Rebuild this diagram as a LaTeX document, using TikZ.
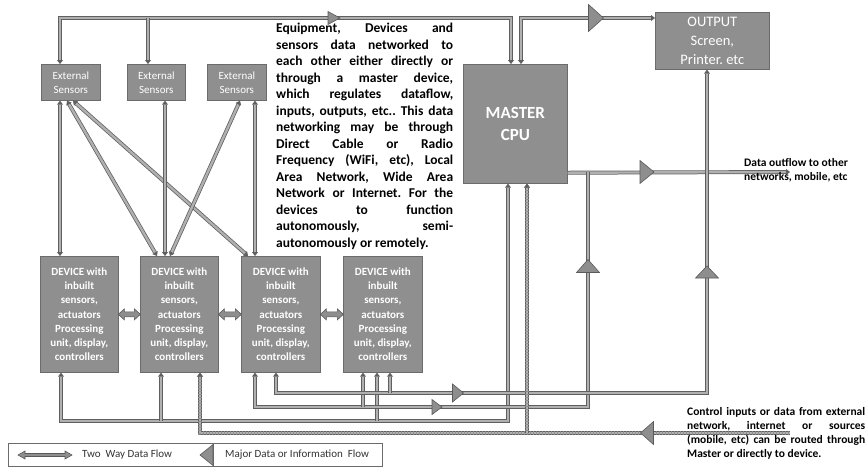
\documentclass[tikz,border=0pt]{standalone}
\usepackage{fontspec}
\setmainfont{Carlito}
\usetikzlibrary{arrows.meta,calc}
\definecolor{boxfill}{HTML}{8F8F8F}
\definecolor{boxline}{HTML}{6B6B6B}
\definecolor{flowout}{HTML}{5F5F5F}
\definecolor{flowin}{HTML}{B0B0B0}
\definecolor{trifill}{HTML}{8E8E8E}
\definecolor{triline}{HTML}{5A5A5A}
\newcommand\jline[1]{\makebox[177pt][s]{#1}}
\newcommand\ctlline[1]{\makebox[178pt][s]{#1}}
\frenchspacing
\tikzset{
  gbox/.style={draw=boxline,fill=boxfill,line width=0.7pt,text=white,inner sep=0pt,align=center,anchor=north west},
  flow/.style={draw=flowout,line width=0.75pt,double=flowin,double distance=2.4pt},
  dotflow/.style={flow,dash pattern=on 0.9pt off 0.6pt,preaction={draw=flowin!80!black,line width=3.9pt,solid}},
  tri/.style={fill=trifill,draw=triline,line width=0.6pt},
  pics/triR/.style 2 args={code={\filldraw[tri] (-#1/2,-#2/2) -- (#1/2,0) -- (-#1/2,#2/2) -- cycle;}},
  pics/triL/.style 2 args={code={\filldraw[tri] (#1/2,-#2/2) -- (-#1/2,0) -- (#1/2,#2/2) -- cycle;}},
  pics/triU/.style 2 args={code={\filldraw[tri] (-#1/2,#2/2) -- (0,-#2/2) -- (#1/2,#2/2) -- cycle;}},
  pics/dblarr/.style n args={4}{code={\filldraw[tri] (-#1/2,0) -- (-#1/2+#4,-#3/2) -- (-#1/2+#4,-#2/2) -- (#1/2-#4,-#2/2) -- (#1/2-#4,-#3/2) -- (#1/2,0) -- (#1/2-#4,#3/2) -- (#1/2-#4,#2/2) -- (-#1/2+#4,#2/2) -- (-#1/2+#4,#3/2) -- cycle;}},
}
\begin{document}
\begin{tikzpicture}[x=1pt,y=-1pt,>={Triangle[length=4pt,width=6pt]}]
\useasboundingbox (0,0) rectangle (867,467);

% boxes
\node[gbox,minimum width=59pt,minimum height=36pt,font=\fontsize{11}{14}\selectfont] (es1) at (41,64) {External\\Sensors};
\node[gbox,minimum width=58pt,minimum height=36pt,font=\fontsize{11}{14}\selectfont] (es2) at (127,64) {External\\Sensors};
\node[gbox,minimum width=59pt,minimum height=36pt,font=\fontsize{11}{14}\selectfont] (es3) at (207,64) {External\\Sensors};
\node[gbox,minimum width=104pt,minimum height=119pt,font=\fontsize{17}{22}\selectfont\bfseries] (master) at (463,64) {MASTER\\CPU};
\node[gbox,minimum width=114pt,minimum height=57pt,font=\fontsize{14.5}{19}\selectfont] (output) at (655,12) {OUTPUT\\Screen,\\Printer. etc};
\foreach \n/\x/\w in {dev1/40/78,dev2/140/78,dev3/241/79,dev4/343/79}{
  \node[gbox,minimum width=\w pt,minimum height=116pt,font=\fontsize{11}{14.2}\selectfont\bfseries] (\n) at (\x,256) {DEVICE with\\inbuilt\\sensors,\\actuators\\Processing\\unit, display,\\controllers};
}

% description text
\node[anchor=north west,inner sep=0pt,align=left,font=\fontsize{13.5}{16.5}\selectfont\bfseries] (desc) at (276,23) {%
\jline{Equipment, Devices and}\\
\jline{sensors data networked to}\\
\jline{each other either directly or}\\
\jline{through a master device,}\\
\jline{which regulates dataflow,}\\
\jline{inputs, outputs, etc.. This data}\\
\jline{networking may be through}\\
\jline{Direct Cable or Radio}\\
\jline{Frequency (WiFi, etc), Local}\\
\jline{Area Network, Wide Area}\\
\jline{Network or Internet. For the}\\
\jline{devices to function}\\
\jline{autonomously, semi-}\\
autonomously or remotely.};

% attachment points
\coordinate (topy) at (0,18);
\coordinate (l393) at (0,393);
\coordinate (l407) at (0,407);
\coordinate (l421) at (0,421);
\coordinate (l433) at (0,433);
\coordinate (outend) at (790,172);
\coordinate (ctlend) at (790,433);
\coordinate (j588) at (588,172);
\coordinate (es1t) at ([xshift=19pt]es1.north west);
\coordinate (es2t) at ([xshift=21pt]es2.north west);
\coordinate (mT1) at ([xshift=48pt]master.north west);
\coordinate (mT2) at ([xshift=58pt]master.north west);
\coordinate (oL) at ([yshift=-6pt]output.north west);
\coordinate (mE) at ([yshift=11pt]master.south east);
\coordinate (mB1) at ([xshift=45pt]master.south west);
\coordinate (mB2) at ([xshift=64pt]master.south west);
\coordinate (oB) at ([xshift=52pt]output.south west);
\coordinate (es1b1) at ([xshift=19pt]es1.south west);
\coordinate (es1b2) at ([xshift=26pt]es1.south west);
\coordinate (es1b3) at ([xshift=32pt]es1.south west);
\coordinate (es2b) at ([xshift=38pt]es2.south west);
\coordinate (es3b1) at ([xshift=33pt]es3.south west);
\coordinate (es3b2) at ([xshift=48pt]es3.south west);
\coordinate (d1t) at ([xshift=20pt]dev1.north west);
\coordinate (d2t1) at ([xshift=17pt]dev2.north west);
\coordinate (d2t2) at ([xshift=25pt]dev2.north west);
\coordinate (d2t3) at ([xshift=30pt]dev2.north west);
\coordinate (d3t1) at ([xshift=7pt]dev3.north west);
\coordinate (d3t2) at ([xshift=14pt]dev3.north west);
\coordinate (d1b) at ([xshift=21pt]dev1.south west);
\coordinate (d2b1) at ([xshift=21pt]dev2.south west);
\coordinate (d2b2) at ([xshift=60pt]dev2.south west);
\coordinate (d3b1) at ([xshift=14pt]dev3.south west);
\coordinate (d3b2) at ([xshift=35pt]dev3.south west);
\coordinate (d4b1) at ([xshift=20pt]dev4.south west);
\coordinate (d4b2) at ([xshift=34pt]dev4.south west);
\coordinate (d4b3) at ([xshift=47pt]dev4.south west);

% connectors
\draw[flow,<->] (es1t) -- (es1t |- topy) -| (mT1);
\draw[flow,->] (es2t |- topy) -- (es2t);
\draw[flow,<->] (mT2) |- (oL);
\draw[flow,->] (mE) -- (outend);
\draw[flow,<->] (es1b1) -- (d1t);
\draw[flow,<->] (es1b2) -- (d2t1);
\draw[flow,<->] (es1b3) -- (d3t1);
\draw[flow,<->] (es2b) -- (d2t2);
\draw[flow,<->] (es3b1) -- (d2t3);
\draw[flow,<->] (es3b2) -- (d3t2);
\draw[flow,<->] (d1b) -- (d1b |- l421) -| (mB1);
\draw[flow,<-] (d2b1) -- (d2b1 |- l421);
\draw[flow,<-] (d4b2) -- (d4b2 |- l421);
\draw[flow,<-] (d3b1) -- (d3b1 |- l407) -| (j588);
\draw[flow,<-] (d4b1) -- (d4b1 |- l407);
\draw[flow,<->] (d3b2) -- (d3b2 |- l393) -| (oB);
\draw[flow,<-] (d4b3) -- (d4b3 |- l393);
\draw[dotflow,<-] (d2b2) -- (d2b2 |- l433) -- (ctlend);
\draw[dotflow,->] (mB2 |- l433) -- (mB2);

% major flow triangles
\pic at (334,18) {triR={12}{13}};
\pic at (596,18) {triR={15}{27}};
\pic at (647,172) {triR={14}{23}};
\pic at (458,393) {triR={11}{18}};
\pic at (437,407) {triR={10}{15}};
\pic at (588,266) {triU={23}{13}};
\pic at (707,272) {triU={23}{12}};
\pic at (647,433) {triL={13}{23}};

% device-to-device two way arrows
\pic at ($(dev1.east)!.5!(dev2.west)$) {dblarr={22}{5}{11}{6}};
\pic at ($(dev2.east)!.5!(dev3.west)$) {dblarr={23}{5}{11}{6}};
\pic at ($(dev3.east)!.5!(dev4.west)$) {dblarr={23}{5}{11}{6}};

% side texts
\node[anchor=north west,inner sep=0pt,align=left,font=\fontsize{11.5}{14}\selectfont\bfseries] (outtxt) at (744,158) {Data outflow to other\\networks, mobile, etc};
\node[anchor=north west,inner sep=0pt,align=left,font=\fontsize{11.5}{14}\selectfont\bfseries] (ctltxt) at (687,407) {%
\ctlline{Control inputs or data from external}\\
\ctlline{network, internet or sources}\\
\ctlline{(mobile, etc) can be routed through}\\
Master or directly to device.};

% legend
\node[draw=boxline,line width=0.6pt,minimum width=374pt,minimum height=23pt,anchor=north west,inner sep=0pt] (leg) at (8,443) {};
\draw[boxline,line width=0.6pt] ([xshift=205pt]leg.north west) -- ([xshift=205pt]leg.south west);
\pic at (45,455) {dblarr={54}{3}{8}{7}};
\node[anchor=west,inner sep=0pt,font=\fontsize{11}{13}\selectfont,text=black!80] (leg1) at (82,455) {Two\ \ Way Data Flow};
\pic at (206.5,455) {triL={13}{21}};
\node[anchor=west,inner sep=0pt,font=\fontsize{11}{13}\selectfont,text=black!80] (leg2) at (225,455) {Major\ Data or Information\ \ Flow};
\end{tikzpicture}
\end{document}
